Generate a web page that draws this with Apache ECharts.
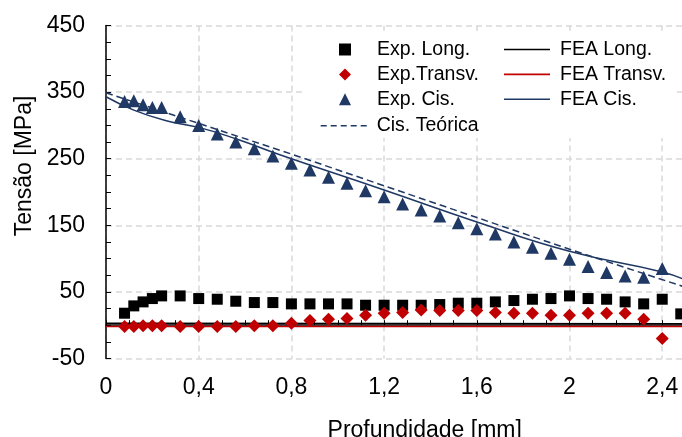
<!DOCTYPE html>
<html>
<head>
<meta charset="utf-8">
<script src="https://cdn.jsdelivr.net/npm/echarts@6/dist/echarts.min.js"></script>
<style>html,body{margin:0;padding:0;background:#fff}#c{width:682px;height:437px}</style>
</head>
<body>
<div id="c"></div>
<script>
const xLong = [0.08,0.12,0.16,0.2,0.24,0.32,0.4,0.48,0.56,0.64,0.72,0.8,0.88,0.96,1.04,1.12,1.2,1.28,1.36,1.44,1.52,1.6,1.68,1.76,1.84,1.92,2.0,2.08,2.16,2.24,2.32,2.4,2.48];
const longVals = [18,29,35,40,44,44,40,39,36,34,34,32,32,32,32,30,30,30,30,31,33,33,35,37,39,40,44,40,39,35,32,39,17];
const xTransv = [0.08,0.12,0.16,0.2,0.24,0.32,0.4,0.48,0.56,0.64,0.72,0.8,0.88,0.96,1.04,1.12,1.2,1.28,1.36,1.44,1.52,1.6,1.68,1.76,1.84,1.92,2.0,2.08,2.16,2.24,2.32,2.4];
const transvVals = [-2,-2,-1,-1,-1,-2,-2,-2,-2,-1,-1,3,7,9,10,15,18,19,23,22,22,22,19,18,18,15,15,18,18,18,9,-20];
const xCis = [0.08,0.12,0.16,0.2,0.24,0.32,0.4,0.48,0.56,0.64,0.72,0.8,0.88,0.96,1.04,1.12,1.2,1.28,1.36,1.44,1.52,1.6,1.68,1.76,1.84,1.92,2.0,2.08,2.16,2.24,2.32,2.4];
const cisVals = [336,337,331,327,327,313,300,287,275,265,254,243,233,222,213,202,193,182,173,164,154,145,137,125,117,108,99,88,79,74,72,85];
const feaLongX = [0, 2.5];
const feaLongY = [3, 2];
const feaTransvX = [0, 2.5];
const feaTransvY = [-2, -2];
const feaCisX = [0, 0.12, 0.26, 0.4, 0.56, 0.75, 1.2, 1.6, 2.0, 2.4, 2.5];
const feaCisY = [343, 323, 307, 297, 280, 256, 203, 155, 111, 80, 68];
const teorX = [0, 0.8, 2.0, 2.5];
const teorY = [349, 257, 114, 57];
const xTicks = [0, 0.4, 0.8, 1.2, 1.6, 2.0, 2.4];
const yTicks = [-50, 50, 150, 250, 350, 450];

const zip = (a, b) => a.map((v, i) => [v, b[i]]);
const FONT = 'Liberation Sans, Arial, sans-serif';
const NAVY = '#1f3864', RED = '#c00000';
const ROW = 25.4, TOP = 39.5;
const SOLID_ICON = 'path://M0,0H46V1.6H0Z';
const DASH_ICON = 'path://M0,0h6v1.6h-6z M10,0h6v1.6h-6z M20,0h6v1.6h-6z M30,0h6v1.6h-6z M40,0h6v1.6h-6z';

const chart = echarts.init(document.getElementById('c'), null, {renderer: 'canvas'});
function legendBase(extra) {
  return Object.assign({
    orient: 'vertical', padding: 0, itemGap: 4.9, itemHeight: 12,
    textStyle: {fontFamily: FONT, fontSize: 19.5, color: '#000', padding: [0, 0, 0, 5]},
    selectedMode: false, z: 5
  }, extra);
}
chart.setOption({
  animation: false,
  graphic: [{type: 'rect', z: 1, shape: {x: 304, y: 31, width: 373, height: 107}, style: {fill: '#fff'}}],
  grid: {left: 106, top: 25.5, right: -3.4, bottom: 78.5, containLabel: false, outerBoundsMode: 'none'},
  legend: [
    legendBase({left: 339, top: TOP, itemWidth: 12, data: ['Exp. Long.', 'Exp.Transv.', 'Exp. Cis.'],
      textStyle: {fontFamily: FONT, fontSize: 19.5, color: '#000', padding: [0, 0, 0, 21]}}),
    legendBase({left: 320.7, top: TOP + 3 * ROW, itemWidth: 46, data: [{name: 'Cis. Teórica', icon: DASH_ICON}]}),
    legendBase({left: 504, top: TOP, itemWidth: 46, data: [
      {name: 'FEA Long.', icon: SOLID_ICON}, {name: 'FEA Transv.', icon: SOLID_ICON}, {name: 'FEA Cis.', icon: SOLID_ICON}]})
  ],
  xAxis: {
    type: 'value', min: xTicks[0], max: 2.5, interval: 0.4,
    name: 'Profundidade [mm]', nameLocation: 'middle', nameGap: 61,
    nameTextStyle: {fontFamily: FONT, fontSize: 23, color: '#000', padding: [0, 0, 0, 58]},
    axisLine: {lineStyle: {color: '#000', width: 1.5}},
    axisTick: {inside: true, length: 5, lineStyle: {color: '#000', width: 1}},
    minorTick: {show: true, splitNumber: 4, length: 5, lineStyle: {color: '#000', width: 1}},
    axisLabel: {fontFamily: FONT, fontSize: 23, color: '#000', margin: 18, showMaxLabel: false,
      formatter: v => xTicks.some(t => Math.abs(t - v) < 1e-6) ? String(+v.toFixed(1)).replace('.', ',') : ''},
    splitLine: {show: true, lineStyle: {color: '#d9d9d9', width: 1.5, type: [6, 4]}}
  },
  yAxis: {
    type: 'value', min: yTicks[0], max: yTicks[yTicks.length - 1], interval: 100,
    name: 'Tensão [MPa]', nameLocation: 'middle', nameGap: 70, nameRotate: 90,
    nameTextStyle: {fontFamily: FONT, fontSize: 23, color: '#000', padding: [0, 0, 0, 52]},
    axisLine: {show: true, lineStyle: {color: '#000', width: 1.5}},
    axisTick: {show: true, inside: true, length: 5, lineStyle: {color: '#000', width: 1}},
    minorTick: {show: true, splitNumber: 4, length: 5, lineStyle: {color: '#000', width: 1}},
    axisLabel: {fontFamily: FONT, fontSize: 23, color: '#000', margin: 21},
    splitLine: {show: true, lineStyle: {color: '#d9d9d9', width: 1.5, type: [6, 4]}}
  },
  series: [
    {name: 'FEA Long.', type: 'line', symbol: 'none', z: 2, data: zip(feaLongX, feaLongY), lineStyle: {color: '#000', width: 1.5}, itemStyle: {color: '#000'}},
    {name: 'FEA Transv.', type: 'line', symbol: 'none', z: 2, data: zip(feaTransvX, feaTransvY), lineStyle: {color: RED, width: 1.5}, itemStyle: {color: RED}},
    {name: 'FEA Cis.', type: 'line', symbol: 'none', smooth: true, z: 2, data: zip(feaCisX, feaCisY), lineStyle: {color: NAVY, width: 1.5}, itemStyle: {color: NAVY}},
    {name: 'Cis. Teórica', type: 'line', symbol: 'none', z: 2, data: zip(teorX, teorY), lineStyle: {color: NAVY, width: 1.5, type: [7, 4]}, itemStyle: {color: NAVY}},
    {name: 'Exp. Long.', type: 'scatter', symbol: 'rect', symbolSize: 11, z: 3, data: zip(xLong, longVals), itemStyle: {color: '#000', opacity: 1}},
    {name: 'Exp.Transv.', type: 'scatter', symbol: 'diamond', symbolSize: 13, z: 3, data: zip(xTransv, transvVals), itemStyle: {color: RED, opacity: 1}},
    {name: 'Exp. Cis.', type: 'scatter', symbol: 'triangle', symbolSize: 13, z: 3, data: zip(xCis, cisVals), itemStyle: {color: NAVY, opacity: 1}}
  ]
});
</script>
</body>
</html>
